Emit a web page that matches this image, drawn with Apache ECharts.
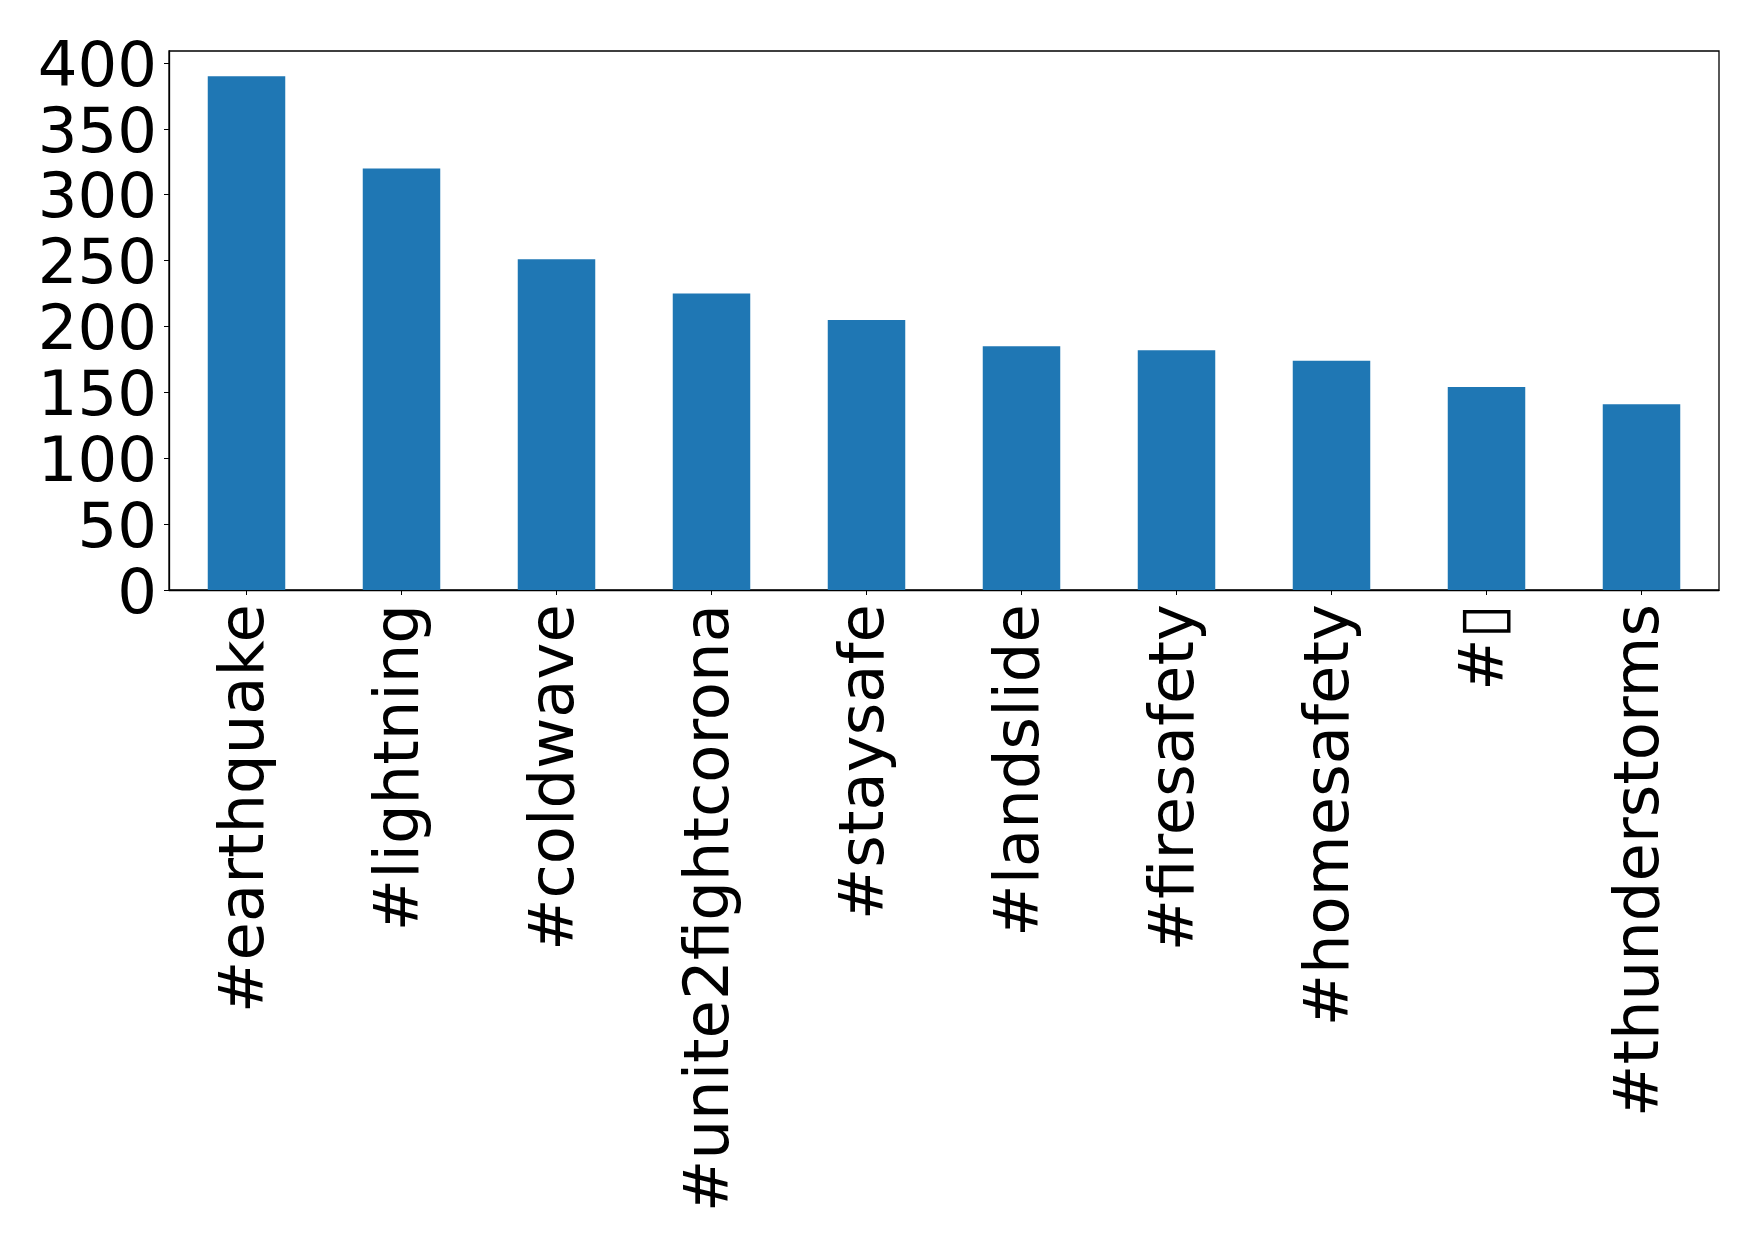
<!DOCTYPE html>
<html>
<head>
<meta charset="utf-8">
<script src="https://cdn.jsdelivr.net/npm/echarts@6/dist/echarts.min.js"></script>
<style>
html,body{margin:0;padding:0;background:#fff;}
#chart{width:1759px;height:1247px;}
</style>
</head>
<body>
<div id="chart"></div>
<script>
const categories = ['#earthquake', '#lightning', '#coldwave', '#unite2fightcorona', '#staysafe', '#landslide', '#firesafety', '#homesafety', '#\u25AF', '#thunderstorms'];
const counts = [390, 320, 251, 225, 205, 185, 182, 174, 154, 141];
const yTicks = [0, 50, 100, 150, 200, 250, 300, 350, 400];

const chart = echarts.init(document.getElementById('chart'), null, {renderer: 'canvas'});
const font = 'DejaVu Sans';
chart.setOption({
  animation: false,
  backgroundColor: '#ffffff',
  grid: {
    left: 169, right: 40, top: 51, bottom: 657,
    show: true, borderColor: '#000', borderWidth: 1.3, backgroundColor: 'transparent'
  },
  xAxis: {
    type: 'category',
    data: categories,
    axisLine: {show: true, lineStyle: {color: '#000', width: 1.3}},
    axisTick: {show: true, alignWithLabel: true, length: 5, lineStyle: {color: '#000', width: 1}},
    axisLabel: {
      rotate: 90, interval: 0, margin: 14,
      color: '#000', fontFamily: font, fontSize: 62.5
    },
    splitLine: {show: false}
  },
  yAxis: {
    type: 'value',
    min: 0, max: 409.1, interval: 50,
    axisLine: {show: true, lineStyle: {color: '#000', width: 1.3}},
    axisTick: {show: true, length: 5, lineStyle: {color: '#000', width: 1},
      customValues: yTicks},
    axisLabel: {
      color: '#000', fontFamily: font, fontSize: 62.5, margin: 12,
      customValues: yTicks,
      formatter: v => (yTicks.indexOf(v) >= 0 ? '{v|' + v + '}' : ''),
      rich: {
        v: {color: '#000', fontFamily: font, fontSize: 62.5, padding: [13, 0, 0, 0]}
      }
    },
    splitLine: {show: false}
  },
  series: [{
    type: 'bar',
    data: counts,
    barWidth: '50%',
    itemStyle: {color: '#1f77b4'}
  }]
});
</script>
</body>
</html>
